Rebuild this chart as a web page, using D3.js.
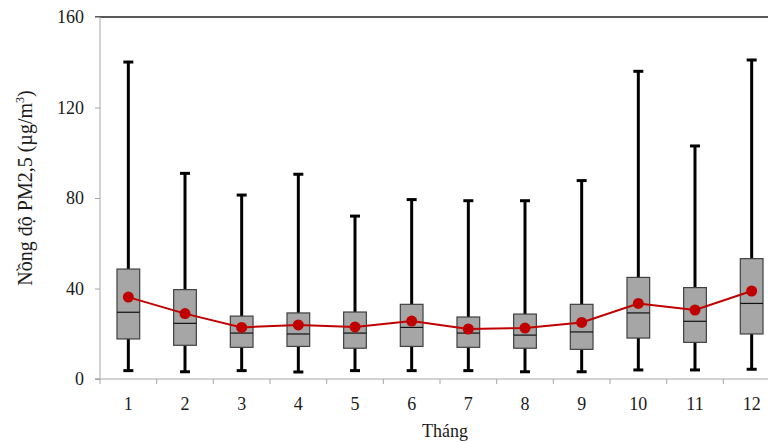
<!DOCTYPE html>
<html><head><meta charset="utf-8">
<script src="https://cdn.jsdelivr.net/npm/d3@7"></script>
<style>body{margin:0;background:#fff}svg{display:block}</style>
</head><body><svg id="c" width="768" height="442"></svg>
<script>
const months = ["1","2","3","4","5","6","7","8","9","10","11","12"];
const minV   = [3.7, 3.2, 3.7, 3.1, 3.7, 3.7, 3.7, 3.2, 3.2, 4.0, 4.0, 4.3];
const q1     = [17.7, 14.9, 14.0, 14.4, 13.6, 14.4, 14.0, 13.6, 13.1, 18.1, 16.2, 19.9];
const median = [29.5, 24.6, 20.3, 19.9, 20.3, 22.8, 20.3, 19.4, 20.8, 29.2, 25.5, 33.4];
const q3     = [48.6, 39.5, 27.8, 29.2, 29.6, 33.0, 27.4, 28.7, 33.0, 44.9, 40.4, 53.2];
const maxV   = [140.1, 90.9, 81.3, 90.5, 72.0, 79.3, 78.8, 78.8, 87.7, 136.0, 103.0, 141.0];
const meanV  = [36.2, 28.9, 22.8, 23.9, 23.0, 25.6, 22.1, 22.5, 25.0, 33.4, 30.5, 38.9];
const yTicks = [0, 40, 80, 120, 160];

const data = months.map((m,i)=>({m, min:minV[i], q1:q1[i], med:median[i], q3:q3[i], max:maxV[i], mean:meanV[i]}));

const svg = d3.select("#c");
const L = 100, R = 780, T = 17, B = 379;
const x = d3.scaleBand().domain(months).range([L, R]).padding(0);
const y = d3.scaleLinear().domain([0,160]).range([B, T]);
const font = "'Liberation Serif','Times New Roman',serif";
const bw = 22.7, cap = 10;

// top border line
svg.append("line").attr("x1",95).attr("x2",768).attr("y1",y(160)).attr("y2",y(160))
  .attr("stroke","#222").attr("stroke-width",1.5);

// y axis
const ya = svg.append("g").attr("transform",`translate(${L},0)`)
  .call(d3.axisLeft(y).tickValues(yTicks).tickSize(5).tickPadding(11));
ya.select(".domain").attr("stroke","#a6a6a6").attr("d",`M-5,${y(0)}H0V${y(160)}`);
ya.selectAll(".tick line").attr("stroke","#a6a6a6");
ya.selectAll("text").attr("font-family",font).attr("font-size",18).attr("fill","#1a1a1a");

// x axis
const xa = svg.append("g").attr("transform",`translate(0,${B})`)
  .call(d3.axisBottom(x).tickSize(0).tickPadding(18));
xa.select(".domain").remove();
xa.append("line").attr("x1",95).attr("x2",768).attr("stroke","#a6a6a6");
xa.selectAll(".bd").data(months).enter().append("line").attr("class","bd")
  .attr("x1",d=>x(d)).attr("x2",d=>x(d)).attr("y1",0).attr("y2",5).attr("stroke","#a6a6a6");
xa.selectAll("text").attr("font-family",font).attr("font-size",18).attr("fill","#1a1a1a");

// boxes
const g = svg.append("g");
data.forEach(d=>{
  const cx = x(d.m) + x.bandwidth()/2;
  g.append("line").attr("x1",cx).attr("x2",cx).attr("y1",y(d.min)).attr("y2",y(d.max))
    .attr("stroke","#000").attr("stroke-width",3);
  [d.min,d.max].forEach(v=>g.append("line").attr("x1",cx-cap/2).attr("x2",cx+cap/2)
    .attr("y1",y(v)).attr("y2",y(v)).attr("stroke","#000").attr("stroke-width",3));
  g.append("rect").attr("x",cx-bw/2).attr("width",bw).attr("y",y(d.q3)).attr("height",y(d.q1)-y(d.q3))
    .attr("fill","#a6a6a6").attr("stroke","#404040").attr("stroke-width",1.2);
  g.append("line").attr("x1",cx-bw/2).attr("x2",cx+bw/2).attr("y1",y(d.med)).attr("y2",y(d.med))
    .attr("stroke","#111").attr("stroke-width",1.2);
});

// mean line
const line = d3.line().x(d=>x(d.m)+x.bandwidth()/2).y(d=>y(d.mean));
svg.append("path").datum(data).attr("d",line).attr("fill","none").attr("stroke","#c00000").attr("stroke-width",2);
svg.selectAll(".mean").data(data).enter().append("circle")
  .attr("cx",d=>x(d.m)+x.bandwidth()/2).attr("cy",d=>y(d.mean)).attr("r",5.5).attr("fill","#c00000");

// titles
svg.append("text").attr("x",445).attr("y",437).attr("text-anchor","middle")
  .attr("font-family",font).attr("font-size",18).attr("fill","#1a1a1a").text("Tháng");
const yt = svg.append("text").attr("transform","translate(32,188) rotate(-90)").attr("text-anchor","middle")
  .attr("font-family",font).attr("font-size",20).attr("fill","#1a1a1a");
yt.append("tspan").text("Nồng độ PM2,5 (µg/m");
yt.append("tspan").attr("font-size",12).attr("dy",-8).text("3");
yt.append("tspan").attr("dy",8).text(")");
</script></body></html>
